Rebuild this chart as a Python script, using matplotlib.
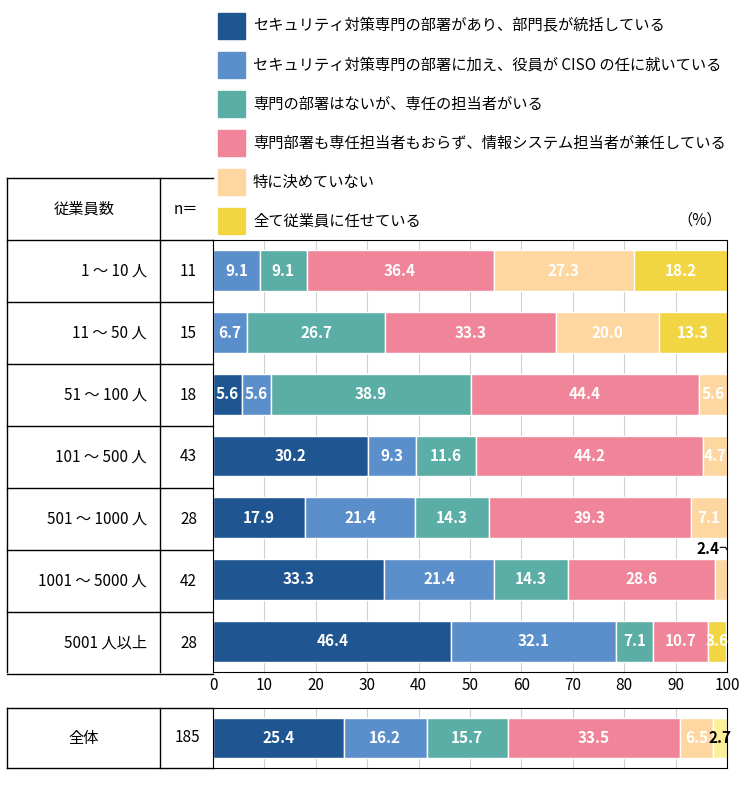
import matplotlib.pyplot as plt
from matplotlib.patches import Rectangle

plt.rcParams['font.family'] = ['Noto Sans CJK JP', 'DejaVu Sans']

# データ
categories = ['セキュリティ対策専門の部署があり、部門長が統括している',
              'セキュリティ対策専門の部署に加え、役員が CISO の任に就いている',
              '専門の部署はないが、専任の担当者がいる',
              '専門部署も専任担当者もおらず、情報システム担当者が兼任している',
              '特に決めていない',
              '全て従業員に任せている']
groups = ['1 ～ 10 人', '11 ～ 50 人', '51 ～ 100 人', '101 ～ 500 人',
          '501 ～ 1000 人', '1001 ～ 5000 人', '5001 人以上']
n_values = [11, 15, 18, 43, 28, 42, 28]
values = [
    [0, 9.1, 9.1, 36.4, 27.3, 18.2],
    [0, 6.7, 26.7, 33.3, 20.0, 13.3],
    [5.6, 5.6, 38.9, 44.4, 5.6, 0],
    [30.2, 9.3, 11.6, 44.2, 4.7, 0],
    [17.9, 21.4, 14.3, 39.3, 7.1, 0],
    [33.3, 21.4, 14.3, 28.6, 2.4, 0],
    [46.4, 32.1, 7.1, 10.7, 0, 3.6],
]
total_label = '全体'
total_n = 185
total_values = [25.4, 16.2, 15.7, 33.5, 6.5, 2.7]

colors = ['#1f5591', '#5b8fcc', '#5aaea6', '#f08498', '#fdd6a0', '#f2d543']
total_colors = colors[:5] + ['#fbef9a']

W, H = 744, 799
fig = plt.figure(figsize=(W / 100, H / 100), dpi=100)

def fx(px):
    return px / W

def fy(py):
    return 1 - py / H

# 凡例
for i, cat in enumerate(categories):
    yc = 26 + i * 39
    fig.patches.append(Rectangle((fx(218), fy(yc + 13)), fx(27), 26 / H,
                                 transform=fig.transFigure, color=colors[i]))
    fig.text(fx(253), fy(yc), cat, fontsize=11, va='center', ha='left')
fig.text(fx(722), fy(220), '（%）', fontsize=11, va='center', ha='right')

def draw_bars(ax, rows, cols, small_above=True):
    for r, row in enumerate(rows):
        left = 0
        for c, v in enumerate(row):
            if v > 0:
                ax.barh(r, v, left=left, height=0.66, color=cols[c],
                        edgecolor='white', linewidth=1, zorder=2)
                cx = left + v / 2
                if v < 3:
                    if small_above:
                        ax.text(left + v - 1.5, r - 0.5, f'{v:.1f}', ha='right',
                                va='center', fontsize=11, fontweight='bold')
                        ax.plot([left + v - 1.3, left + v - 0.3, left + v + 0.5],
                                [r - 0.52, r - 0.52, r - 0.42], color='black', lw=0.8)
                    else:
                        ax.text(cx, r, f'{v:.1f}', ha='center', va='center',
                                fontsize=11, fontweight='bold', color='black')
                else:
                    ax.text(cx, r, f'{v:.1f}', ha='center', va='center',
                            fontsize=11, fontweight='bold', color='white')
            left += v
    ax.set_xlim(0, 100)
    ax.set_ylim(len(rows) - 0.5, -0.5)
    ax.set_yticks([])
    ax.set_xticks(range(0, 101, 10))
    ax.grid(axis='x', color='#d0d0d0', lw=0.8, zorder=0)
    ax.tick_params(length=0, labelsize=11)

ax = fig.add_axes([fx(213), fy(672), fx(727) - fx(213), (672 - 240) / H])
draw_bars(ax, values, colors)

ax2 = fig.add_axes([fx(213), fy(768), fx(727) - fx(213), (768 - 708) / H])
draw_bars(ax2, [total_values], total_colors, small_above=False)
ax2.set_xticklabels([])

# 表の枠線
def hline(x0, x1, y):
    fig.add_artist(plt.Line2D([fx(x0), fx(x1)], [fy(y), fy(y)], color='black', lw=1))

def vline(x, y0, y1):
    fig.add_artist(plt.Line2D([fx(x), fx(x)], [fy(y0), fy(y1)], color='black', lw=1))

hline(7, 213, 178)
for i in range(8):
    hline(7, 213, 240 + i * 62)
vline(7, 178, 672)
vline(160, 178, 672)
hline(7, 213, 708)
hline(7, 213, 768)
vline(7, 708, 768)
vline(160, 708, 768)

fig.text(fx(84), fy(209), '従業員数', fontsize=11, ha='center', va='center')
fig.text(fx(186), fy(209), 'n＝', fontsize=11, ha='center', va='center')
for i, (g, n) in enumerate(zip(groups, n_values)):
    yc = 271 + i * 62
    fig.text(fx(147), fy(yc), g, fontsize=11, ha='right', va='center')
    fig.text(fx(197), fy(yc), str(n), fontsize=11, ha='right', va='center')
fig.text(fx(84), fy(738), total_label, fontsize=11, ha='center', va='center')
fig.text(fx(200), fy(738), str(total_n), fontsize=11, ha='right', va='center')

fig.savefig('out.png', dpi=100)
